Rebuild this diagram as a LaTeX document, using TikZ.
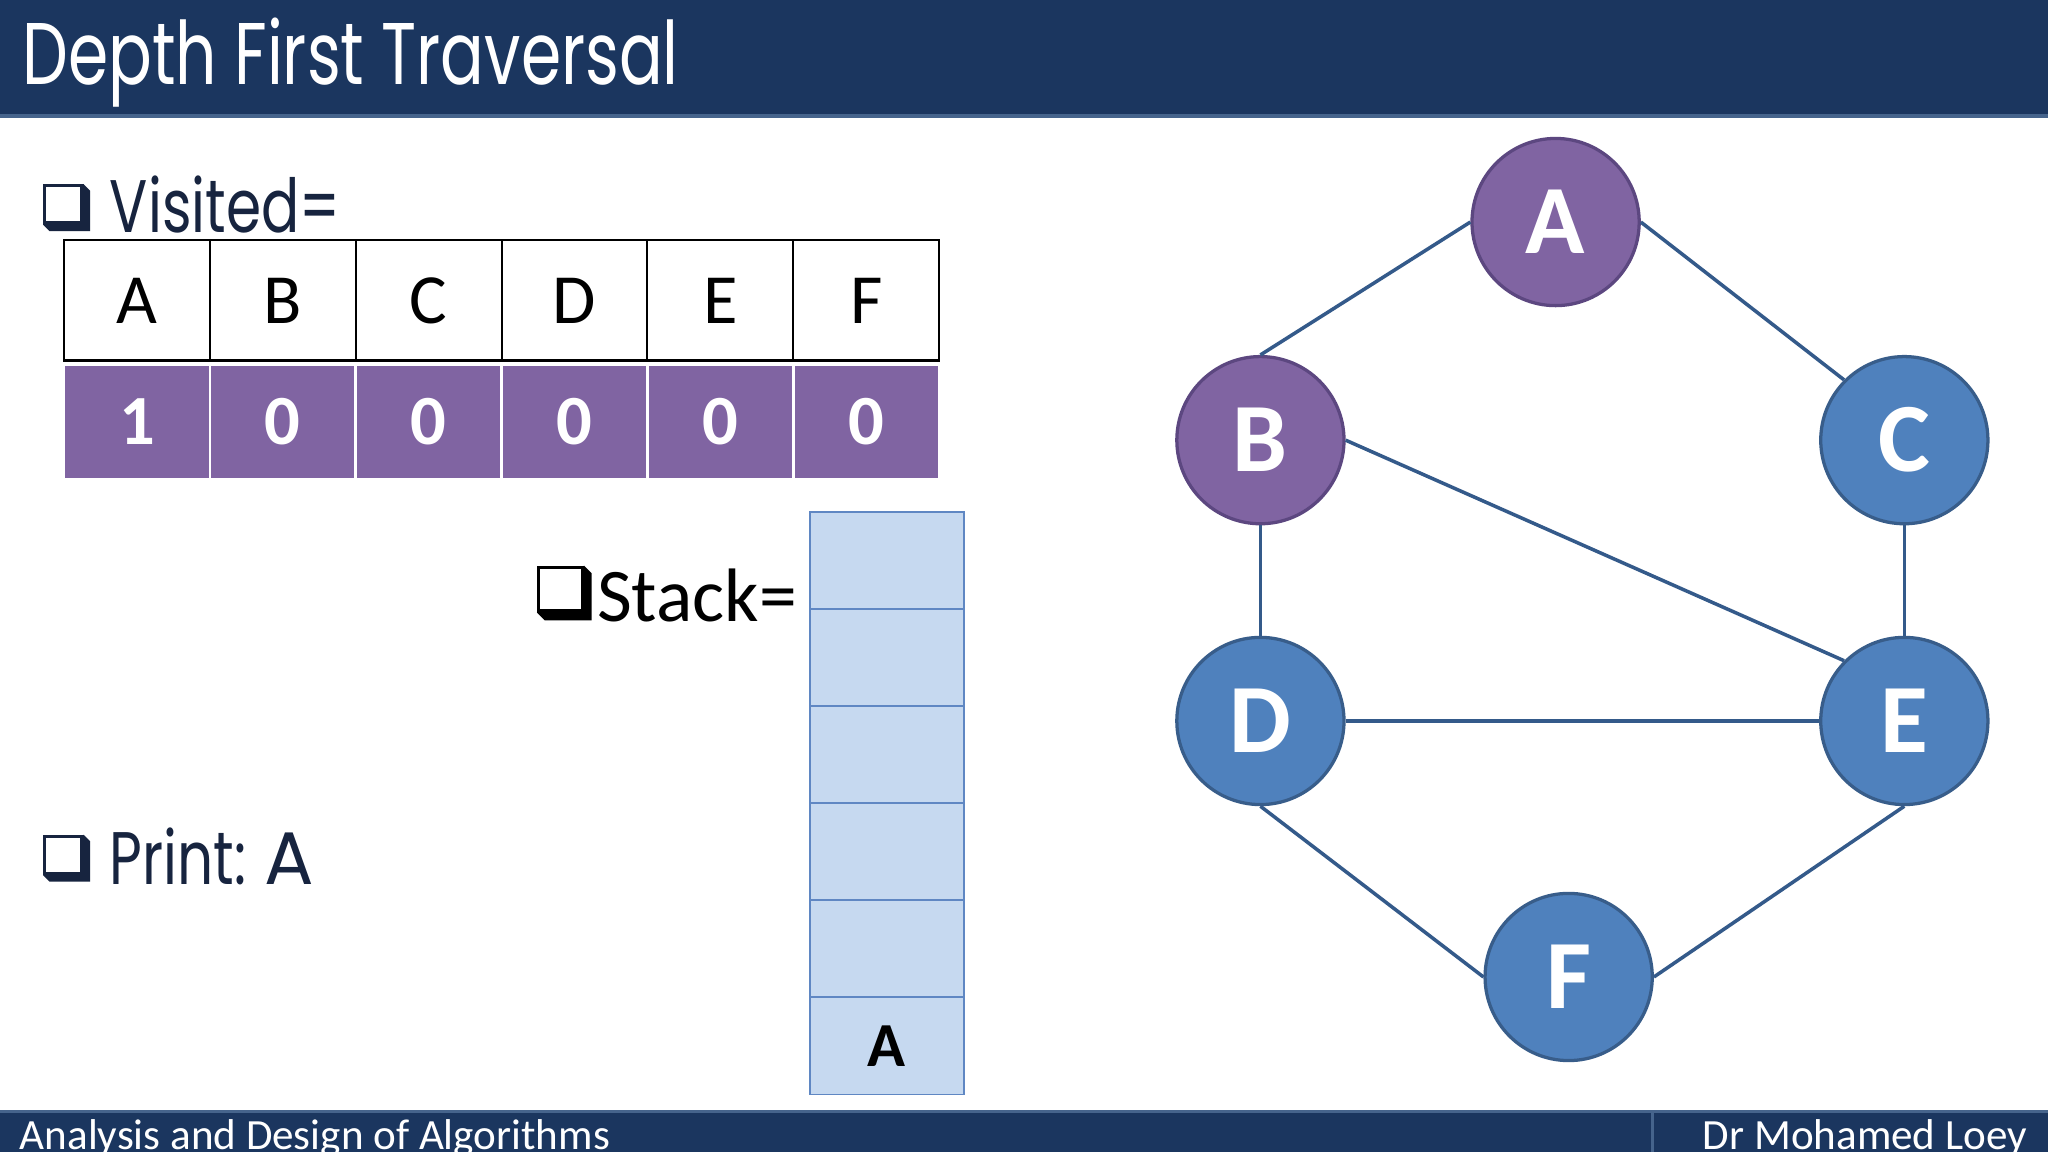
\documentclass[tikz,border=0pt]{standalone}
\usepackage{fontspec}
\setmainfont{Carlito}
\newfontfamily\tw[FakeStretch=0.76]{Poppins}
\newfontfamily\twt[FakeStretch=0.74]{Poppins}
\definecolor{navy}{RGB}{27,54,95}
\definecolor{navyline}{RGB}{70,100,140}
\definecolor{txtnavy}{RGB}{23,36,63}
\definecolor{vpurple}{RGB}{128,100,162}
\definecolor{vpurpleb}{RGB}{92,71,128}
\definecolor{vblue}{RGB}{79,129,189}
\definecolor{vblueb}{RGB}{56,93,138}
\definecolor{edgec}{RGB}{52,90,138}
\definecolor{stackfill}{RGB}{198,217,240}
\definecolor{stackb}{RGB}{95,135,195}
\newcommand{\mychkbox}[5]{% x0 y0 size shadow color
  \fill[#5] (#1,#2) rectangle ({#1+#3},{#2+#3});
  \fill[white] ({#1+2.5},{#2+2.5}) rectangle ({#1+#3-2.5},{#2+#3-2.5});
  \fill[#5] ({#1+#3},{#2}) -- ({#1+#3+#4},{#2+#4}) -- ({#1+#3+#4},{#2+#3+#4})
     -- ({#1+#4},{#2+#3+#4}) -- ({#1},{#2+#3}) -- ({#1+#3},{#2+#3}) -- cycle;
}
\begin{document}
\begin{tikzpicture}[x=1pt,y=-1pt,
  hdrcell/.style={draw=black,line width=1.6pt,fill=white,minimum width=111.67pt,minimum height=92pt,inner sep=0pt,outer sep=0pt,font=\fontsize{54}{60}\selectfont},
  valcell/.style={draw=white,line width=2pt,fill=vpurple,text=white,minimum width=111.67pt,minimum height=88pt,inner sep=0pt,outer sep=0pt,font=\fontsize{54}{60}\selectfont\bfseries},
  stackcell/.style={draw=stackb,line width=1.5pt,fill=stackfill,minimum width=118pt,minimum height=74.33pt,inner sep=0pt,outer sep=0pt,font=\fontsize{48}{52}\selectfont\bfseries},
  vnode/.style={circle,line width=2.5pt,minimum size=128pt,inner sep=0pt,text=white,font=\fontsize{75}{80}\selectfont\bfseries},
  visitednode/.style={vnode,fill=vpurple,draw=vpurpleb},
  freshnode/.style={vnode,fill=vblue,draw=vblueb},
  edgeline/.style={draw=edgec,line width=2.7pt}
]
\useasboundingbox (0,0) rectangle (1568,882);
\fill[white] (0,0) rectangle (1568,882);
% header
\fill[navy] (0,0) rectangle (1568,88);
\fill[navyline] (0,87) rectangle (1568,90);
\node[anchor=base west,inner sep=0pt,text=white,font=\twt\fontsize{67}{70}\selectfont] (title) at (17,65) {Depth First Traversal};
% footer
\fill[navy] (0,851) rectangle (1568,882);
\fill[navyline] (0,850) rectangle (1568,852);
\fill[navyline] (1264,852) rectangle (1266,882);
\node[anchor=base west,inner sep=0pt,text=white,font=\fontsize{33}{36}\selectfont] (foot1) at (15,880) {Analysis and Design of Algorithms};
\node[anchor=base east,inner sep=0pt,text=white,font=\fontsize{33}{36}\selectfont] (foot2) at (1552,880) {Dr Mohamed Loey};
% Visited label
\mychkbox{33}{141}{31}{5}{txtnavy}
\node[anchor=base west,inner sep=0pt,text=txtnavy,font=\tw\fontsize{57}{60}\selectfont] (vislabel) at (84,178) {Visited=};
% table
\foreach \L [count=\i from 0] in {A,B,C,D,E,F} {
  \node[hdrcell] (h\L) at ({49+111.67*(\i+0.5)},230) {\L};
}
\foreach \L/\v [count=\i from 0] in {A/1,B/0,C/0,D/0,E/0,F/0} {
  \node[valcell] (v\L) at ({49+111.67*(\i+0.5)},323) {\v};
}
% Stack label
\mychkbox{411}{433}{36}{6}{black}
\node[anchor=base west,inner sep=0pt,text=black,font=\fontsize{58}{62}\selectfont] (stacklabel) at (457,476) {Stack=};
% stack
\foreach \k in {1,...,5} {
  \node[stackcell] (s\k) at (679,{392+74.33*(\k-0.5)}) {};
}
\node[stackcell] (s6) at (679,{392+74.33*5.5}) {A};
% Print label
\mychkbox{33}{639}{31}{5}{txtnavy}
\node[anchor=base west,inner sep=0pt,text=txtnavy,font=\tw\fontsize{57}{60}\selectfont] (printlabel) at (84,677) {Print:\hspace{14pt}\scalebox{1.3}[1]{A}};
% graph
\node[visitednode] (A) at (1191,170) {A};
\node[visitednode] (B) at (965,337) {B};
\node[freshnode] (C) at (1458,337) {C};
\node[freshnode] (D) at (965,552) {D};
\node[freshnode] (E) at (1458,552) {E};
\node[freshnode] (F) at (1201,748) {F};
\draw[edgeline] (A.west) -- (B.north);
\draw[edgeline] (A.east) -- (C.north west);
\draw[edgeline] (B.south) -- (D.north);
\draw[edgeline] (B.east) -- (E.north west);
\draw[edgeline] (C.south) -- (E.north);
\draw[edgeline] (D.east) -- (E.west);
\draw[edgeline] (D.south) -- (F.west);
\draw[edgeline] (E.south) -- (F.east);
\end{tikzpicture}
\end{document}
